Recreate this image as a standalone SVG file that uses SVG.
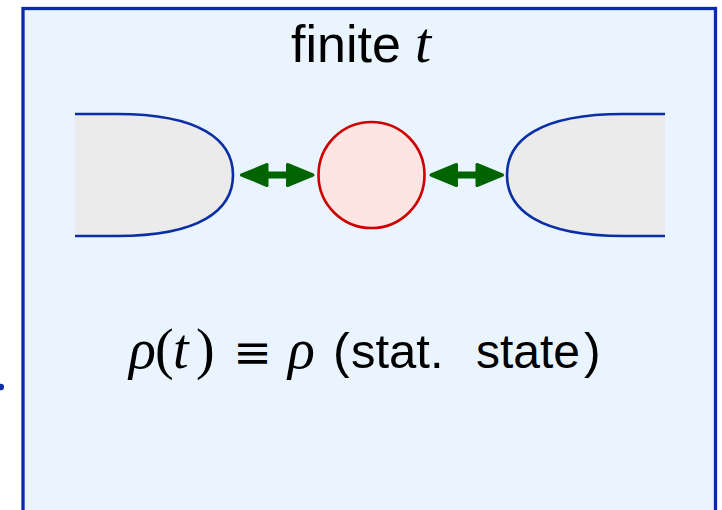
<svg xmlns="http://www.w3.org/2000/svg" xmlns:xlink="http://www.w3.org/1999/xlink" width="722" height="510" viewBox="0 0 722 510">
<style>
.lead{fill:#ebebeb;stroke:none}
.leadline{fill:none;stroke:#0a2ea6;stroke-width:2.6}
.sans{font-family:"Liberation Sans",Arial,sans-serif;fill:#000}
.math{font-family:"Liberation Serif","Times New Roman",serif;fill:#000}
.it{font-style:italic}
.arr{fill:#006400;stroke:#006400;stroke-width:3;stroke-linejoin:round}
</style>
<defs>
<g id="dbl">
<polygon class="arr" points="1.5,0 27,-10.5 27,10.5"/>
<polygon class="arr" points="73,0 47.5,-10.5 47.5,10.5"/>
<rect x="26" y="-3.5" width="22.5" height="7" fill="#006400"/>
</g>
</defs>
<circle id="dot" cx="0.8" cy="387" r="3.2" fill="#0a2ea6"/>
<g id="panel">
<rect x="23" y="8.5" width="692.5" height="530" fill="#eaf4ff" stroke="#0a2aa6" stroke-width="3.3"/>
<text class="sans" x="291" y="62" font-size="52">finite</text>
<text class="math it" x="415" y="62" font-size="58">t</text>
</g>
<g id="leadL">
<path class="lead" d="M75,114 L117,114 C200,114 233,140 233,175 C233,210 200,236 117,236 L75,236 Z"/>
<path class="leadline" d="M75,114 L117,114 C200,114 233,140 233,175 C233,210 200,236 117,236 L75,236"/>
</g>
<g id="dotQ">
<circle cx="371.5" cy="175" r="53" fill="#ffe4e4" stroke="#cc0000" stroke-width="2.6"/>
</g>
<g id="leadR">
<path class="lead" d="M665,114 L623,114 C540,114 507,140 507,175 C507,210 540,236 623,236 L665,236 Z"/>
<path class="leadline" d="M665,114 L623,114 C540,114 507,140 507,175 C507,210 540,236 623,236 L665,236"/>
</g>
<g id="connectors">
<use xlink:href="#dbl" transform="translate(240,175)"/>
<use xlink:href="#dbl" transform="translate(429.5,175)"/>
</g>
<g id="formula">
<text class="math it" x="129" y="368" font-size="56">ρ</text>
<text class="math" x="155" y="368" font-size="56">(</text>
<text class="math it" x="173" y="368" font-size="56">t</text>
<text class="math" x="196" y="368" font-size="56">)</text>
<text x="252.5" y="368" font-size="46" text-anchor="middle" font-weight="200" style="font-family:'DejaVu Sans','DejaVu Serif',sans-serif">≡</text>
<text class="math it" x="288" y="368" font-size="56">ρ</text>
<text class="sans" x="333" y="368" font-size="50">(</text>
<text class="sans" x="351" y="368" font-size="49">stat.</text>
<text class="sans" x="476" y="368" font-size="48">state</text>
<text class="sans" x="584" y="368" font-size="50">)</text>
</g>
</svg>
